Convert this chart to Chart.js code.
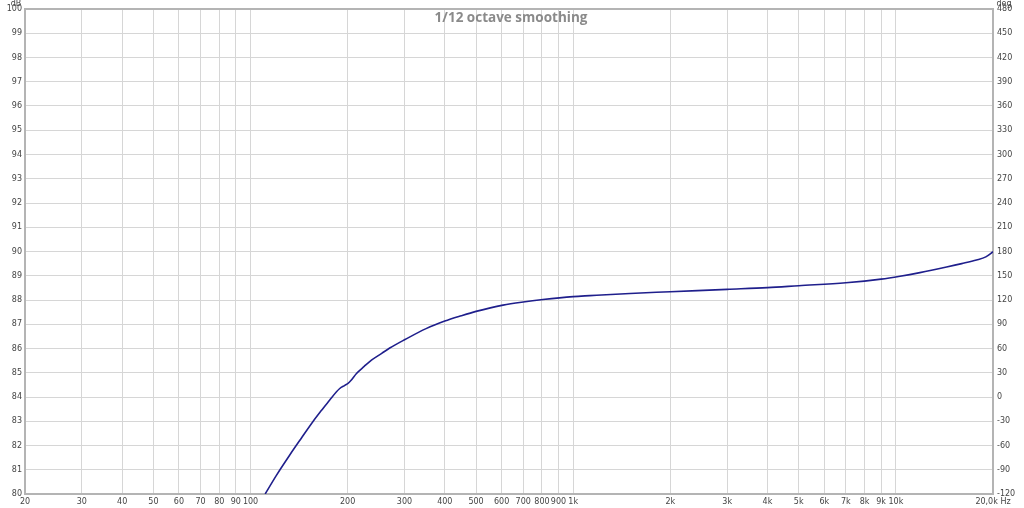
<!DOCTYPE html>
<html>
<head>
<meta charset="utf-8">
<script src="https://cdn.jsdelivr.net/npm/chart.js@4/dist/chart.umd.min.js"></script>
<style>
  html, body { margin: 0; padding: 0; background: #fff; }
  #wrap { width: 1024px; height: 508px; }
</style>
</head>
<body>
<div id="wrap"><canvas id="chart" width="1024" height="508"></canvas></div>
<script>
// frequency response
var freqs = [111, 120, 132, 144, 156, 166, 176, 189, 196, 200, 205, 213, 225, 237, 255, 270, 301, 350, 400, 450, 500, 606, 700, 806,
	1000, 1126, 1500, 2000, 3000, 4000, 5000, 7000, 9000, 10300, 11870, 14360, 16000, 17780, 19000, 20000];
var spl = [80.0, 80.75, 81.59, 82.32, 82.98, 83.45, 83.88, 84.35, 84.48, 84.55, 84.69, 84.97, 85.26, 85.52, 85.8, 86.02, 86.37, 86.82, 87.13, 87.35, 87.53, 87.79, 87.92, 88.02,
	88.14, 88.18, 88.27, 88.34, 88.44, 88.51, 88.59, 88.71, 88.86, 88.98, 89.13, 89.36, 89.5, 89.65, 89.78, 89.99];

var xTicks = [20, 30, 40, 50, 60, 70, 80, 90, 100, 200, 300, 400, 500, 600, 700, 800, 900,
	1000, 2000, 3000, 4000, 5000, 6000, 7000, 8000, 9000, 10000, 20000];
var chartTitle = '1/12 octave smoothing';

var tickFont = { family: 'DejaVu Sans', size: 8 };
var gridCol = '#d6d6d6';

function freqLabel(v) {
	if (v == 20000) return '20,0k Hz';
	if (v >= 1000) return (v / 1000) + 'k';
	return '' + v;
}

var frame = {
	id: 'frame',
	beforeDatasetsDraw: function(chart) {
		var a = chart.chartArea, ctx = chart.ctx;
		ctx.save();
		ctx.strokeStyle = '#b4b4b4';
		ctx.lineWidth = 2;
		ctx.strokeRect(a.left, a.top, a.right - a.left, a.bottom - a.top);
		ctx.restore();
	},
	afterDraw: function(chart) {
		var a = chart.chartArea, ctx = chart.ctx;
		ctx.save();
		ctx.fillStyle = '#8a8a8a';
		ctx.font = 'bold 13.5px "Open Sans"';
		ctx.textAlign = 'center';
		ctx.textBaseline = 'middle';
		ctx.fillText(chartTitle, (a.left + a.right) / 2 + 2, 18);
		ctx.fillStyle = '#444';
		ctx.font = '8px "DejaVu Sans"';
		ctx.textBaseline = 'alphabetic';
		ctx.fillText('dB', 16, 6);
		ctx.fillText('deg', 1004, 6);
		ctx.restore();
	}
};

new Chart(document.getElementById('chart'), {
	type: 'line',
	data: {
		datasets: [{
			data: freqs.map(function(f, i) { return { x: f, y: spl[i] }; }),
			borderColor: '#1f1f8c',
			borderWidth: 1.6,
			pointRadius: 0,
			cubicInterpolationMode: 'monotone',
			fill: false,
			yAxisID: 'y'
		}]
	},
	options: {
		responsive: false,
		animation: false,
		layout: { padding: { top: 9, left: 0, right: 0, bottom: 0 } },
		plugins: { legend: { display: false }, tooltip: { enabled: false } },
		scales: {
			x: {
				type: 'logarithmic',
				min: 20, max: 20000,
				afterBuildTicks: function(s) { s.ticks = xTicks.map(function(v) { return { value: v }; }); },
				afterFit: function(s) { s.height = 14; },
				grid: { color: gridCol, drawTicks: false },
				border: { display: false },
				ticks: { font: tickFont, color: '#444', padding: 3, autoSkip: false, maxRotation: 0,
					callback: function(v) { return freqLabel(v); } }
			},
			y: {
				position: 'left',
				min: 80, max: 100,
				afterFit: function(s) { s.width = 25; },
				grid: { color: gridCol, drawTicks: false },
				border: { display: false },
				ticks: { font: tickFont, color: '#444', padding: 3, stepSize: 1 }
			},
			y2: {
				position: 'right',
				min: -120, max: 480,
				afterFit: function(s) { s.width = 31; },
				grid: { drawOnChartArea: false, drawTicks: false },
				border: { display: false },
				ticks: { font: tickFont, color: '#444', padding: 4, stepSize: 30 }
			}
		}
	},
	plugins: [frame]
});
</script>
</body>
</html>
